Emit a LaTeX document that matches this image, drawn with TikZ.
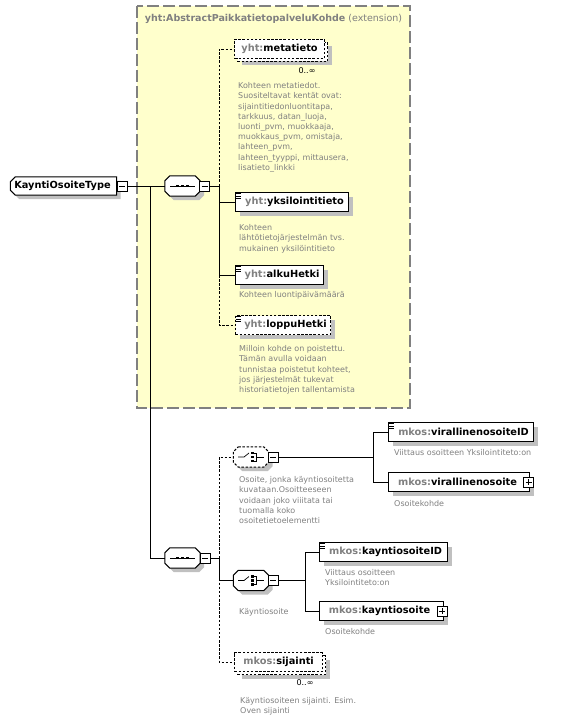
\documentclass[tikz,border=0pt]{standalone}
\usepackage{fontspec}
\setmainfont{DejaVu Sans}
\usetikzlibrary{shadows}
\pgfdeclarelayer{ext}
\pgfdeclarelayer{shp}
\pgfsetlayers{ext,shp,main}
\definecolor{ybg}{RGB}{255,255,204}
\definecolor{tgray}{RGB}{128,128,128}
\definecolor{sgray}{RGB}{192,192,192}
\definecolor{bgray}{RGB}{128,128,128}
\newcommand\gpre[1]{\textcolor{tgray}{#1}}
\newcommand\simpleicon[1]{%
  \draw[line width=0.6pt] ([shift={(1.2,1.8)}]#1.north west) -- ++(5.2,0);
  \draw[line width=0.6pt] ([shift={(1.2,3.9)}]#1.north west) -- ++(4.4,0);
  \draw[line width=0.6pt] ([shift={(1.2,6.0)}]#1.north west) -- ++(4.4,0);}
\newcommand\seqicon[1]{%
  \draw[line width=0.7pt] ([shift={(-12.5,0)}]#1.center) -- ++(25,0);
  \foreach \dx in {-5,0,5} \fill ([shift={(\dx-1.4,-1.4)}]#1.center) rectangle ++(2.8,2.8);}
\newcommand\choiceicon[1]{%
  \draw[line width=0.7pt] ([shift={(-13,0)}]#1.center) -- ++(6,0) -- ++(5,-4);
  \foreach \dy in {-4,0,4} \fill ([shift={(0,\dy-1.3)}]#1.center) rectangle ++(2.6,2.6);
  \draw[line width=0.7pt] ([shift={(2.6,-4)}]#1.center) -- ++(2.4,0) -- ++(0,8) -- ++(-2.4,0);
  \draw[line width=0.7pt] ([shift={(5,0)}]#1.center) -- ++(8,0);}
\newcommand\minusmark[1]{\draw[line width=0.7pt] ([shift={(-3,0)}]#1.center) -- ++(6,0);}
\newcommand\plusmark[1]{\draw[line width=0.7pt] ([shift={(-3,0)}]#1.center) -- ++(6,0);
  \draw[line width=0.7pt] ([shift={(0,-3)}]#1.center) -- ++(0,6);}
% octagon-like outline around a node: #1 node, #2 left chamfer, #3 right chamfer, #4 offset
\newcommand\octpath[4]{([shift={(#2+#4,#4)}]#1.north west) -- ([shift={(-#3+#4,#4)}]#1.north east) -- ([shift={(#4,#3+#4)}]#1.north east) -- ([shift={(#4,-#3+#4)}]#1.south east) -- ([shift={(-#3+#4,#4)}]#1.south east) -- ([shift={(#2+#4,#4)}]#1.south west) -- ([shift={(#4,-#2+#4)}]#1.south west) -- ([shift={(#4,#2+#4)}]#1.north west) -- cycle}
\newcommand\compshape[4]{% node, left, right, extra style
  \begin{pgfonlayer}{shp}
  \fill[sgray] \octpath{#1}{#2}{#3}{4};
  \draw[fill=white,line width=1pt,#4] \octpath{#1}{#2}{#3}{0};
  \end{pgfonlayer}}
\begin{document}
\begin{tikzpicture}[x=1pt,y=-1pt,
  lab/.style={font=\fontsize{9.8}{11}\selectfont\bfseries},
  shad/.style={drop shadow={shadow xshift=4pt,shadow yshift=-4pt,fill=sgray,opacity=1}},
  elbase/.style={draw=black,line width=1.1pt,fill=white,rectangle,inner sep=0pt,
    minimum height=19pt,anchor=west,lab},
  elbox/.style={elbase,shad},
  dsh/.style={dash pattern=on 2.5pt off 1.6pt},
  pm/.style={draw=black,line width=0.8pt,fill=white,rectangle,inner sep=0pt,minimum size=10pt},
  comp/.style={rectangle,inner sep=0pt,minimum width=35pt,minimum height=20pt},
  desc/.style={anchor=north west,inner sep=0pt,align=left,text=tgray,
    font=\fontsize{8}{10.2}\selectfont},
  mult/.style={inner sep=0pt,font=\fontsize{8}{9}\selectfont},
  conn/.style={line width=0.8pt,draw=black}]
\useasboundingbox (0,0) rectangle (562,722);
% extension box
\begin{pgfonlayer}{ext}
\draw[draw=bgray,line width=1.6pt,dash pattern=on 12pt off 4pt,fill=ybg] (137,6) rectangle (410,408);
\end{pgfonlayer}
\node[text=tgray,font=\fontsize{9.5}{11}\selectfont] (title) at (273.5,19)
  {\textbf{yht:AbstractPaikkatietopalveluKohde} (extension)};

% main type
\node[comp,minimum width=106pt,minimum height=18pt,lab] (main) at (63.5,186) {\hspace*{-2pt}KayntiOsoiteType};
\compshape{main}{5}{0}{}
\node[pm] (mainm) at (122,186) {};
\minusmark{mainm}

% sequence 1
\node[comp] (seq1) at (182.5,186) {};
\compshape{seq1}{5}{5}{}
\seqicon{seq1}
\node[pm] (seq1m) at (204.5,186) {};
\minusmark{seq1m}

% elements in extension
\node[elbox,dsh,minimum width=90pt] (metab) at (237,52) {};
\node[elbase,dsh,minimum width=90pt] (meta) at (234,49) {\gpre{yht:}metatieto};
\node[mult] (metamult) at (307,71) {0..∞};
\node[desc] (metad) at (238,82.5) {Kohteen metatiedot.\\Suositeltavat kentät ovat:\\sijaintitiedonluontitapa,\\tarkkuus, datan\_luoja,\\luonti\_pvm, muokkaaja,\\muokkaus\_pvm, omistaja,\\lahteen\_pvm,\\lahteen\_tyyppi, mittausera,\\lisatieto\_linkki};

\node[elbox,minimum width=113pt] (yks) at (235,202) {\hspace*{5pt}\gpre{yht:}yksilointitieto};
\simpleicon{yks}
\node[desc] (yksd) at (239,224.5) {Kohteen\\lähtötietojärjestelmän  tvs.\\mukainen yksilöintitieto};

\node[elbox,minimum width=88pt] (alku) at (235,275) {\hspace*{5pt}\gpre{yht:}alkuHetki};
\simpleicon{alku}
\node[desc] (alkud) at (239,291) {Kohteen luontipäivämäärä};

\node[elbox,dsh,minimum width=95pt] (loppu) at (235,325) {\hspace*{5pt}\gpre{yht:}loppuHetki};
\simpleicon{loppu}
\node[desc] (loppud) at (239,345.5) {Milloin kohde on poistettu.\\Tämän avulla voidaan\\tunnistaa poistetut kohteet,\\jos järjestelmät tukevat\\historiatietojen tallentamista};

% sequence 2
\node[comp] (seq2) at (182.5,558) {};
\compshape{seq2}{5}{5}{}
\seqicon{seq2}
\node[pm] (seq2m) at (205,558) {};
\minusmark{seq2m}

% choice 1
\node[comp] (ch1) at (251,457) {};
\compshape{ch1}{5}{5}{dsh}
\choiceicon{ch1}
\node[pm] (ch1m) at (273,457) {};
\minusmark{ch1m}
\node[desc] (ch1d) at (239,476.5) {Osoite, jonka käyntiosoitetta\\kuvataan.Osoitteeseen\\voidaan joko viiitata tai\\tuomalla koko\\osoitetietoelementti};

\node[elbox,minimum width=145pt] (vID) at (388,432) {\hspace*{5pt}\gpre{mkos:}virallinenosoiteID};
\simpleicon{vID}
\node[desc] (vIDd) at (394,449.5) {Viittaus osoitteen Yksilointiteto:on};

\node[elbox,minimum width=141pt] (vos) at (388,482) {\gpre{mkos:}virallinenosoite\hspace*{3pt}};
\node[pm] (vosp) at (528.5,482) {};
\plusmark{vosp}
\node[desc] (vosd) at (394,500.5) {Osoitekohde};

% choice 2
\node[comp] (ch2) at (251,580.5) {};
\compshape{ch2}{5}{5}{}
\choiceicon{ch2}
\node[pm] (ch2m) at (273,580.5) {};
\minusmark{ch2m}
\node[desc] (ch2d) at (239,608.5) {Käyntiosoite};

\node[elbox,minimum width=128pt] (kID) at (319,552) {\hspace*{4pt}\gpre{mkos:}kayntiosoiteID};
\simpleicon{kID}
\node[desc] (kIDd) at (325,569.5) {Viittaus osoitteen\\Yksilointiteto:on};

\node[elbox,minimum width=124pt] (kos) at (319,611) {\gpre{mkos:}kayntiosoite\hspace*{4pt}};
\node[pm] (kosp) at (442,611) {};
\plusmark{kosp}
\node[desc] (kosd) at (325,628.5) {Osoitekohde};

% sijainti
\node[elbox,dsh,minimum width=88pt] (sijb) at (237,665) {};
\node[elbase,dsh,minimum width=88pt] (sij) at (234,662) {\gpre{mkos:}sijainti};
\node[mult] (sijmult) at (305,683) {0..∞};
\node[desc] (sijd) at (240,697.5) {Käyntiosoiteen sijainti. Esim.\\Oven sijainti};

% connectors
\coordinate (v1) at (150.5,186);
\coordinate (b1) at (219,186);
\coordinate (b2) at (219,558);
\coordinate (b3) at (373,457);
\coordinate (b4) at (305,580.5);
\draw[conn] (mainm.east) -- (seq1.west);
\draw[conn] (v1) |- (seq2.west);
\draw[conn] (seq1m.east) -- (b1);
\draw[conn] (b1) |- (yks.west);
\draw[conn] (b1) |- (alku.west);
\draw[conn,dsh] (b1) |- (meta.west);
\draw[conn,dsh] (alku.west -| b1) |- (loppu.west);
\draw[conn] (seq2m.east) -- (b2);
\draw[conn] (b2) |- (ch2.west);
\draw[conn,dsh] (b2) |- (ch1.west);
\draw[conn,dsh] (b2) |- (sij.west);
\draw[conn] (ch1m.east) -- (b3);
\draw[conn] (b3) |- (vID.west);
\draw[conn] (b3) |- (vos.west);
\draw[conn] (ch2m.east) -- (b4);
\draw[conn] (b4) |- (kID.west);
\draw[conn] (b4) |- (kos.west);
\end{tikzpicture}
\end{document}
